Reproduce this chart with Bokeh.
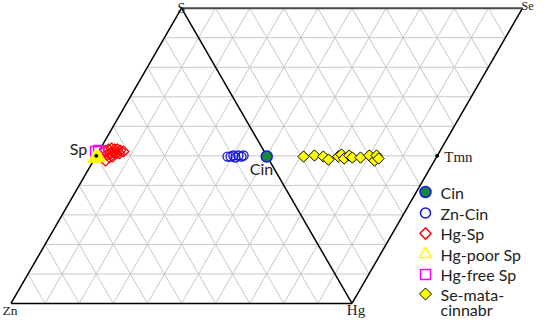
import math
from bokeh.plotting import figure
from bokeh.models import Label
from bokeh.embed import file_html
from bokeh.resources import INLINE

H = math.sqrt(3) / 2

# ---- data (rhombus coordinates: Zn=(0,0), Hg=(1,0), S=(0.5,H), Se=(1.5,H)) ----
cin_x = [0.75]
cin_y = [0.431]

zncin_x = [0.635, 0.644, 0.652, 0.658, 0.667, 0.676, 0.682]
zncin_y = [0.431, 0.431, 0.434, 0.428, 0.434, 0.431, 0.434]

hgsp_x = [0.277, 0.286, 0.295, 0.304, 0.312, 0.321, 0.330, 0.283, 0.292, 0.301,
          0.309, 0.318, 0.277, 0.289, 0.298]
hgsp_y = [0.449, 0.452, 0.455, 0.452, 0.452, 0.449, 0.446, 0.437, 0.440, 0.443,
          0.440, 0.440, 0.419, 0.428, 0.431]

hgpoor_x = [0.251, 0.245, 0.257]
hgpoor_y = [0.428, 0.425, 0.428]

hgfree_x = [0.248, 0.257]
hgfree_y = [0.446, 0.449]

se_x = [0.858, 0.890, 0.916, 0.931, 0.960, 0.969, 0.977, 0.992, 1.001, 1.025,
        1.051, 1.066, 1.072, 1.078]
se_y = [0.431, 0.434, 0.431, 0.422, 0.431, 0.437, 0.425, 0.434, 0.428, 0.428,
        0.434, 0.419, 0.434, 0.425]

ref_x = [0.25, 1.25]
ref_y = [H / 2, H / 2]

legend_labels = ["Cin", "Zn-Cin", "Hg-Sp", "Hg-poor Sp", "Hg-free Sp", "Se-mata-", "cinnabr"]

# ---- figure ----
W, HT = 534, 318
X0, X1 = -0.0308, 1.5352
Y0, Y1 = -0.0440, 0.8886
p = figure(width=W, height=HT, output_backend="svg", toolbar_location=None,
           x_range=(X0, X1), y_range=(Y0, Y1),
           min_border=0, x_axis_type=None, y_axis_type=None)
p.grid.visible = False
p.outline_line_color = None
p.background_fill_color = "white"

# grid
gx, gy = [], []
for k in range(1, 10):
    t = k / 10
    gx.append([t * 0.5, 1 + t * 0.5]); gy.append([t * H, t * H])
    gx.append([t, t + 0.5]); gy.append([0, H])
for k in range(1, 20):
    c = k / 10
    if c < 1:
        gx.append([c, c / 2]); gy.append([0, c * H])
    elif c > 1:
        gx.append([1 + (c - 1) / 2, c - 0.5]); gy.append([(c - 1) * H, H])
p.multi_line(gx, gy, line_color="#c8c8c8", line_width=1)

# boundaries
p.multi_line([[0, 0.5], [0.5, 1], [0, 1], [1, 1.5]], [[0, H], [H, 0], [0, 0], [0, H]],
             line_color="black", line_width=1.5)
p.line([0.5, 1.5], [H, H], line_color="#4a4a4a", line_width=2)

# data points
p.scatter(hgsp_x, hgsp_y, marker="square", angle=math.pi / 4, size=7.5,
          fill_color=None, line_color="red", line_width=1.3)
p.scatter(hgfree_x, hgfree_y, marker="square", size=10,
          fill_color=None, line_color="magenta", line_width=1.5)
p.scatter(hgpoor_x, hgpoor_y, marker="triangle", size=13,
          fill_color="yellow", line_color="yellow", line_width=1.5)
p.scatter(zncin_x, zncin_y, marker="circle", size=9,
          fill_color=None, line_color="#1515e0", line_width=1.3)
p.scatter(se_x, se_y, marker="square", angle=math.pi / 4, size=8,
          fill_color="yellow", line_color="black", line_width=1)
p.scatter(cin_x, cin_y, marker="circle", size=11,
          fill_color="#138a3a", line_color="#1515e0", line_width=1.5)
p.scatter(ref_x, ref_y, marker="circle", size=3, fill_color="black", line_color="black")

# ---- legend (drawn by hand, positioned in screen pixels of the canvas) ----
def dx(sx):
    return X0 + sx / W * (X1 - X0)

def dy(sy):
    return Y1 - sy / HT * (Y1 - Y0)

LEG_MX, LEG_TX = 425, 440          # marker centre / text left (canvas px)
LEG_ROWS = [191.5, 212.5, 233, 253.5, 274, 293.5, 309]

key_style = [
    dict(marker="circle", size=11, fill_color="#138a3a", line_color="#1515e0", line_width=1.5),
    dict(marker="circle", size=10, fill_color=None, line_color="#1515e0", line_width=1.5),
    dict(marker="square", angle=math.pi / 4, size=8, fill_color=None, line_color="red", line_width=1.5),
    dict(marker="triangle", size=12, fill_color=None, line_color="yellow", line_width=1.5),
    dict(marker="square", size=10, fill_color=None, line_color="magenta", line_width=1.5),
    dict(marker="square", angle=math.pi / 4, size=8.5, fill_color="yellow", line_color="black", line_width=1),
]
for st, ry in zip(key_style, LEG_ROWS):
    p.scatter([dx(LEG_MX)], [dy(ry)], **st)
for lab, ry in zip(legend_labels, LEG_ROWS):
    p.add_layout(Label(x=LEG_TX, y=HT - ry, x_units="screen", y_units="screen", text=lab,
                       text_align="left", text_baseline="middle", text_font="Lato",
                       text_font_size="16px", text_color="#222222"))

# vertex / end-member labels
serif = "Liberation Serif"
lab_style = dict(text_baseline="middle", text_color="#222222")
p.add_layout(Label(x=0.5, y=H, text="S", text_align="center", text_baseline="alphabetic",
                   y_offset=0, text_font=serif, text_font_size="14px", text_color="#222222"))
p.add_layout(Label(x=1.5, y=H, text="Se", text_align="left", x_offset=-1, y_offset=2,
                   text_font=serif, text_font_size="12px", **lab_style))
p.add_layout(Label(x=0, y=0, text="Zn", text_align="center", x_offset=-1, y_offset=-7,
                   text_font=serif, text_font_size="13.5px", **lab_style))
p.add_layout(Label(x=1, y=0, text="Hg", text_align="center", x_offset=4, y_offset=-7,
                   text_font=serif, text_font_size="15px", **lab_style))
p.add_layout(Label(x=1.25, y=H / 2, text="Tmn", text_align="left", x_offset=7, y_offset=-1.5,
                   text_font=serif, text_font_size="15px", **lab_style))
p.add_layout(Label(x=0.25, y=H / 2, text="Sp", text_align="right", x_offset=-9, y_offset=7.5,
                   text_font="Lato", text_font_size="16px", **lab_style))
p.add_layout(Label(x=0.75, y=H / 2, text="Cin", text_align="left", x_offset=-17, y_offset=-13,
                   text_font="Lato", text_font_size="16px", **lab_style))

open("out.html", "w").write(file_html(p, INLINE))
